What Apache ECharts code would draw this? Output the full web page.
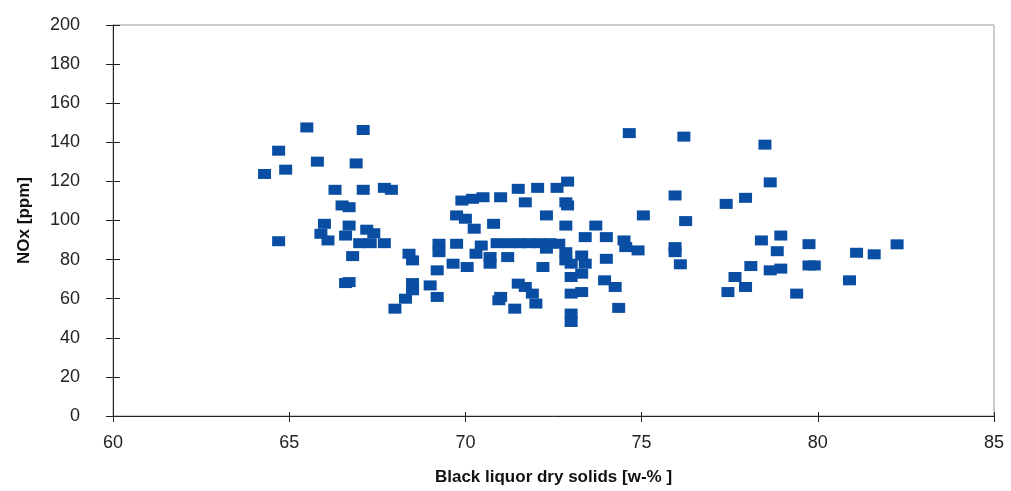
<!DOCTYPE html>
<html>
<head>
<meta charset="utf-8">
<script src="https://cdn.jsdelivr.net/npm/echarts@6/dist/echarts.min.js"></script>
<style>
  html, body { margin: 0; padding: 0; background: #fff; }
  #chart { width: 1011px; height: 491px; }
</style>
</head>
<body>
<div id="chart"></div>
<script>
// dry solids [w-%]
var drySolids = [
  65.5, 67.1, 64.7, 65.8, 66.9, 64.3, 64.9, 66.3, 67.1, 67.7, 67.9, 66.5, 66.7,
  66.0, 66.7, 67.2, 67.4, 65.9, 66.1, 66.6, 67.0, 67.3, 67.7, 64.7, 66.8, 68.4,
  68.5, 66.6, 66.7, 68.5, 68.5, 69.0, 68.3, 68.0,
  72.9, 72.6, 71.5, 72.05, 71.7, 71.0, 69.9, 70.2, 70.5, 69.75, 70.0, 70.25, 70.8,
  72.3, 72.85, 72.9, 72.85, 73.7, 73.4, 74.0, 70.9, 71.25, 71.55, 71.8, 72.1, 72.4,
  69.25, 69.25, 69.75, 70.45, 70.3, 70.7, 70.7, 71.2, 72.3, 72.65, 72.85, 72.85,
  73.3, 73.4, 74.0, 69.2, 69.65, 70.05, 72.2, 73.0, 73.0, 73.3, 69.2, 71.0, 70.95,
  71.5, 71.7, 71.9, 72.0, 71.4, 73.0, 73.3, 73.0, 73.0,
  74.65, 76.2, 78.5, 78.65, 77.95, 77.4, 75.95, 76.25, 75.05, 74.5, 74.55, 74.9,
  75.95, 75.95, 76.1, 73.95, 74.25, 74.35, 78.95, 78.4, 78.85, 78.65, 78.95, 78.1,
  77.65, 77.95, 77.45, 79.4,
  79.75, 79.75, 79.9, 81.1, 81.6, 80.9, 82.25
]
// NOx [ppm]
var noxPpm = [
  147.6, 146.3, 135.7, 130.1, 129.2, 123.8, 126.0, 115.7, 115.7, 116.7, 115.7, 107.7, 106.8,
  98.3, 97.4, 95.3, 93.5, 93.2, 89.8, 92.3, 88.4, 88.4, 88.4, 89.4, 81.8, 83.0,
  79.6, 68.0, 68.5, 68.0, 64.3, 66.8, 60.0, 54.9,
  119.9, 116.7, 116.2, 116.7, 109.3, 111.9, 110.2, 111.1, 111.9, 102.6, 100.9, 95.8, 98.3,
  102.6, 109.3, 107.7, 97.4, 97.4, 91.5, 91.5, 88.4, 88.4, 88.4, 88.4, 88.4, 88.4,
  88.1, 83.8, 88.1, 87.2, 83.0, 81.3, 77.9, 81.3, 85.6, 88.1, 83.8, 79.6,
  82.1, 77.9, 80.4, 74.5, 77.9, 76.2, 76.2, 77.9, 71.1, 72.8, 60.9, 60.9, 59.2,
  67.7, 66.0, 62.6, 57.5, 54.9, 62.6, 63.4, 52.4, 48.1,
  144.7, 142.9, 138.8, 119.5, 111.6, 108.5, 112.8, 99.7, 102.6, 89.8, 86.4, 84.7,
  86.4, 83.8, 77.6, 69.4, 66.0, 55.3, 92.3, 89.8, 84.3, 74.5, 75.4, 76.7,
  71.1, 66.0, 63.4, 62.6,
  87.9, 77.0, 77.0, 83.5, 82.7, 69.4, 87.8
]

var points = drySolids.map(function (x, i) { return [x, noxPpm[i]] })

var chartDom = document.getElementById('chart')
var myChart = echarts.init(chartDom)

var gridLeft = 113, gridRight = 17, gridTop = 25, gridBottom = 74
var gridW = 1011 - gridLeft - gridRight
var gridH = 491 - gridTop - gridBottom

var labelFont = { fontFamily: 'Liberation Sans', fontSize: 18, color: '#222' }
var axisColor = '#222'

var option = {
  animation: false,
  backgroundColor: '#fff',
  grid: {
    left: gridLeft, right: gridRight, top: gridTop, bottom: gridBottom,
    show: true, borderColor: '#9a9a9a', borderWidth: 1
  },
  xAxis: [
    {
      type: 'value', min: 60, max: 85, interval: 5, position: 'bottom',
      name: 'Black liquor dry solids [w-% ]',
      nameLocation: 'middle', nameGap: 53,
      nameTextStyle: { fontFamily: 'Liberation Sans', fontSize: 17, fontWeight: 'bold', color: '#111' },
      axisLine: { show: true, onZero: false, lineStyle: { color: axisColor, width: 1 } },
      axisTick: { show: true, length: 6, lineStyle: { color: axisColor } },
      axisLabel: Object.assign({ margin: 18 }, labelFont),
      splitLine: { show: false }
    },
    {
      // second copy, moved down onto the bottom edge, so the ticks cross the axis
      type: 'value', min: 60, max: 85, interval: 5, position: 'top', offset: -gridH,
      axisLine: { show: false, onZero: false },
      axisTick: { show: true, length: 5, lineStyle: { color: axisColor } },
      axisLabel: { show: false },
      splitLine: { show: false }
    }
  ],
  yAxis: [
    {
      type: 'value', min: 0, max: 200, interval: 20, position: 'left',
      name: 'NOx [ppm]',
      nameLocation: 'middle', nameGap: 80,
      nameTextStyle: { fontFamily: 'Liberation Sans', fontSize: 17, fontWeight: 'bold', color: '#111' },
      axisLine: { show: true, onZero: false, lineStyle: { color: axisColor, width: 1 } },
      axisTick: { show: true, length: 7, lineStyle: { color: axisColor } },
      axisLabel: Object.assign({ margin: 33 }, labelFont),
      splitLine: { show: false }
    },
    {
      type: 'value', min: 0, max: 200, interval: 20, position: 'right', offset: -gridW,
      axisLine: { show: false, onZero: false },
      axisTick: { show: true, length: 7, lineStyle: { color: axisColor } },
      axisLabel: { show: false },
      splitLine: { show: false }
    }
  ],
  series: [
    {
      type: 'scatter',
      xAxisIndex: 0,
      yAxisIndex: 0,
      symbol: 'rect',
      symbolSize: [13, 10],
      itemStyle: { color: '#0a4ea3', opacity: 1 },
      data: points
    }
  ]
}

myChart.setOption(option)
</script>
</body>
</html>
